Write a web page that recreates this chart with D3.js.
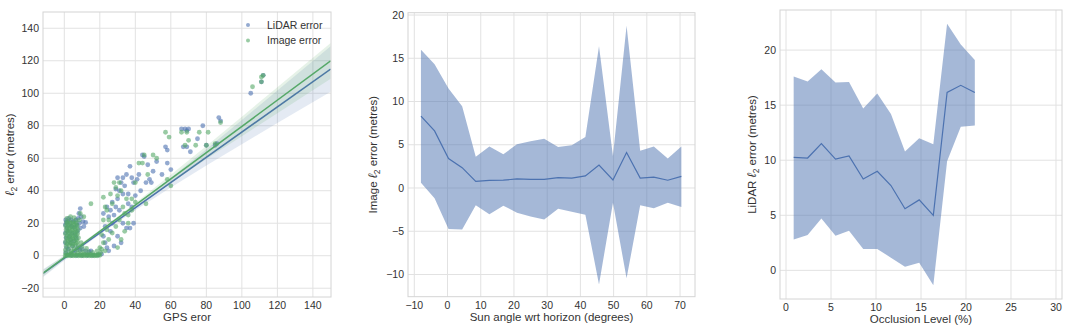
<!DOCTYPE html>
<html>
<head>
<meta charset="utf-8">
<script src="https://cdn.jsdelivr.net/npm/d3@7"></script>
<style>
  body { margin: 0; background: #fff; }
  svg text { font-family: "Liberation Sans", Arial, sans-serif; fill: #333; }
</style>
</head>
<body>
<div id="chart"></div>
<script>
// ---- panel 1: GPS error vs l2 error (scatter + regression) ----
const lidarPts = [
  [0.6,19],[0.8,22],[1.2,20.5],[1.5,17],[0.7,14],[1.0,11],[0.6,8],[1.3,5],[0.9,2],[2.0,21],[2.5,23],[3.0,19],
  [2.2,15],[2.8,12],[3.3,8],[2.4,4],[3.8,22],[4.2,18],[4.5,14],[3.6,10],[4.8,6],[5.2,21],[5.6,17.5],[6.0,13],
  [5.5,9],[6.5,22],[7.0,19],[7.4,15],[6.8,11],[7.8,23],[8.5,20],[9.0,17],[10.5,21],[12,20.5],[9.5,24],[8.2,26],
  [9,29],[11,18],[6.2,3],[7.5,5],[8.8,3.5],[10,4],[12,3],[14,2.5],[15,3],[1.8,0.5],[4,0.3],[7,0.2],[10,0.2],
  [13,0.3],[16,0.2],[19,0.4],[21,1],
  [22,12],[23,8],[24,5],[25,3],[26,15],[27,20],[28,25],[29,30],[30,35],[31,40],[32,45],[33,48],[34,43],
  [35,50],[36,38],[37,55],[38,48],[39,45],[23,18],[25,24],[27,33],[29,41],[31,28],[33,20],[35,17],[37,17],
  [39,20],[30,12],[32,8],[28,6],[26,28],[24,30],[33,38],[36,32],[38,30],[40,37],[41,47],[22,26],[30,48],
  [42,50],[44,62],[45,61],[46,45],[48,47],[50,52],[52,58],[55,50],[58,57],[60,53],[43,40],[47,56],[49,45],
  [57,67],[58,65],[66,78],[67,67],[68,78],[69,77],[70,78],[71,64],[69,67],[75,72],[78,80],[80,68],[85,68],
  [87,85],[88,83],[86,69],[105,100],[111,107],[112,111]
];
const imagePts = [
  [0.5,0],[2,0],[3.5,0],[5,0],[6.5,0],[8,0],[9.5,0],[11,0],[12.5,0],[14,0],[15.5,0],[17,0],[18.5,0],[20,0.3],
  [1.2,0.4],[2.8,0.5],[4.3,0.3],[5.8,0.4],[7.3,0.5],[8.8,0.4],[10.3,0.3],[11.8,0.4],[13.3,0.5],[14.8,0.3],[16.3,0.4],[17.8,0.3],[19.3,0.5],
  [0.8,1.5],[2.5,1.2],[4,1.8],[5.8,1],[7.5,1.4],[9,0.8],[11,1],[13,0.6],[15,0.8],[17,0.5],[19,1],[20.5,2],
  [0.6,3.5],[2.2,4],[3.8,3],[5.5,4.2],[7.2,3.6],[9,3],[11,2.5],[13.5,2.2],[16,2],[18.5,3],[21,4],
  [1,6],[2.7,6.5],[4.4,5.8],[6,6.8],[7.8,6],[10,5.5],[12.5,4.5],
  [1.6,7.3],[3.4,7.6],[5,7.1],[6.8,7.7],
  [0.7,8.5],[2.3,9],[4,8.2],[5.7,9.3],[7.4,8.6],[9.5,8],
  [1.6,10],[3.3,9.9],[5,10.2],[6.8,10.1],
  [1.1,11],[2.8,11.5],[4.5,10.8],[6.2,11.8],[8,11],
  [1.6,12.4],[3.3,12.6],[5,12.2],[6.8,12.7],
  [0.6,13.5],[2.4,14],[4.1,13.2],[5.9,14.2],[7.5,13.6],
  [1.6,15],[3.3,15.1],[5,14.8],[6.8,15.2],
  [1,16],[2.7,16.5],[4.4,15.8],[6.1,16.6],[7.8,16],
  [1.6,17.4],[3.3,17.6],[5,17.3],[6.8,17.7],
  [0.7,18.5],[2.3,19],[4,18.2],[5.7,19.2],[7.3,18.6],
  [1.6,20],[3.3,20.1],[5,19.9],[6.8,20.2],
  [1.2,21],[2.9,21.5],[4.6,20.8],[6.3,21.4],[8.5,22],
  [1.5,23],[3.5,24],[5.5,23.5],[9,26],[11,24],
  [15,32],[20,5],[21,13],[22,22],[22,36],[23,30],[24,28],[25,22],[26,38],[27,32],[28,45],[29,42],[30,37],
  [31,45],[32,40],[33,30],[35,35],[36,25],[38,35],[40,45],[30,5],[32,10],[34,15],[36,20],[38,28],[40,33],
  [23,3],[25,10],[27,14],[29,18],[31,22],[34,26],[22,8],[24,16],
  [42,57],[44,57],[45,62],[46,32],[47,50],[50,62],[52,60],[57,76],[58,47],[60,43],[59,73],
  [66,76],[68,68],[69,76],[70,71],[74,68],[76,76],[80,68],[81,76],[85,69],[88,82],
  [106,104],[111,110],[112,111],[111,107]
];
// regression fits: [intercept, slope]
const lidarFit = [-1.5, 0.776];
const imageFit = [-1.1, 0.807];
// confidence band half-widths along x
const ciX = [-12, 0, 20, 40, 60, 80, 100, 120, 150];
const lidarCi = [2.5, 1.5, 1, 1.5, 3, 5, 7.5, 10, 14];
const imageCi = [2, 1.2, 0.8, 1.3, 2.5, 4, 6, 8, 11];

// ---- panel 2: sun angle ----
const sunX = [-8, -3.9, 0.3, 4.4, 8.5, 12.6, 16.8, 20.9, 25, 29.1, 33.3, 37.4, 41.5, 45.6, 49.8, 53.9, 58, 62.1, 66.3, 70.4];
const sunMean = [8.3, 6.6, 3.4, 2.35, 0.77, 0.87, 0.9, 1.05, 1.0, 1.0, 1.2, 1.15, 1.4, 2.66, 0.93, 4.1, 1.15, 1.25, 0.9, 1.35];
const sunHigh = [16.0, 14.3, 11.5, 9.45, 3.6, 4.8, 3.9, 5.05, 5.4, 5.7, 4.75, 4.95, 5.9, 16.4, 3.7, 18.75, 4.3, 4.8, 3.4, 4.8];
const sunLow = [0.6, -1.2, -4.75, -4.8, -2.0, -3.05, -2.05, -2.85, -3.3, -3.65, -2.4, -2.75, -3.1, -11.15, -1.7, -10.45, -2.0, -2.35, -1.7, -2.2];

// ---- panel 3: occlusion ----
const occX = [0.85, 2.4, 3.93, 5.5, 7.0, 8.58, 10.14, 11.66, 13.22, 14.8, 16.37, 17.9, 19.42, 20.98];
const occMean = [10.26, 10.2, 11.5, 10.1, 10.4, 8.3, 9.0, 7.7, 5.6, 6.4, 5.0, 16.15, 16.8, 16.15];
const occHigh = [17.6, 17.15, 18.25, 17.05, 17.1, 14.7, 16.05, 14.2, 10.8, 12.0, 11.45, 22.4, 20.5, 19.1];
const occLow = [2.8, 3.2, 4.7, 3.15, 3.6, 1.93, 1.95, 1.15, 0.33, 0.7, -1.35, 9.9, 13.05, 13.15];

const blue = '#4c72b0';
const green = '#55a868';
const W = 1076, H = 331;

const svg = d3.select('#chart').append('svg').attr('width', W).attr('height', H);

const fmt = d => (d < 0 ? '\u2212' + Math.abs(d) : '' + d);

function makePanel(cfg) {
  const x = d3.scaleLinear().domain(cfg.xDomain).range([cfg.left, cfg.right]);
  const y = d3.scaleLinear().domain(cfg.yDomain).range([cfg.bottom, cfg.top]);
  const g = svg.append('g');
  const clipId = 'clip' + cfg.id;
  svg.append('clipPath').attr('id', clipId).append('rect')
    .attr('x', cfg.left).attr('y', cfg.top)
    .attr('width', cfg.right - cfg.left).attr('height', cfg.bottom - cfg.top);

  // grid
  g.selectAll('.vg').data(cfg.xTicks).enter().append('line')
    .attr('x1', d => x(d)).attr('x2', d => x(d))
    .attr('y1', cfg.top).attr('y2', cfg.bottom)
    .attr('stroke', '#e2e2e2').attr('stroke-width', 1);
  g.selectAll('.hg').data(cfg.yTicks).enter().append('line')
    .attr('y1', d => y(d)).attr('y2', d => y(d))
    .attr('x1', cfg.left).attr('x2', cfg.right)
    .attr('stroke', '#e2e2e2').attr('stroke-width', 1);

  // tick labels
  g.selectAll('.xt').data(cfg.xTicks).enter().append('text')
    .attr('x', d => x(d)).attr('y', cfg.bottom + 12)
    .attr('text-anchor', 'middle').attr('font-size', 10.5).text(fmt);
  g.selectAll('.yt').data(cfg.yTicks).enter().append('text')
    .attr('x', cfg.left - 4).attr('y', d => y(d) + 3.7)
    .attr('text-anchor', 'end').attr('font-size', 10.5).text(fmt);

  // axis labels
  g.append('text')
    .attr('x', (cfg.left + cfg.right) / 2).attr('y', cfg.bottom + cfg.xLabelOff)
    .attr('text-anchor', 'middle').attr('font-size', 11.5).text(cfg.xLabel);
  const yl = g.append('text')
    .attr('transform', `translate(${cfg.yLabelX},${(cfg.top + cfg.bottom) / 2}) rotate(-90)`)
    .attr('text-anchor', 'middle').attr('font-size', 11.5);
  if (cfg.yPrefix) yl.append('tspan').text(cfg.yPrefix);
  yl.append('tspan').attr('font-style', 'italic').attr('font-size', 12.5).text('\u2113');
  yl.append('tspan').attr('dy', 2.5).attr('font-size', 8.5).text('2');
  yl.append('tspan').attr('dy', -2.5).text(' error (metres)');

  const plot = svg.append('g').attr('clip-path', `url(#${clipId})`);
  return { x, y, g, plot, cfg };
}

function drawFrame(p) {
  const c = p.cfg;
  svg.append('rect')
    .attr('x', c.left).attr('y', c.top)
    .attr('width', c.right - c.left).attr('height', c.bottom - c.top)
    .attr('fill', 'none').attr('stroke', '#d4d4d4').attr('stroke-width', 1);
}

// ---------- panel 1 ----------
const p1 = makePanel({
  id: 1, left: 43, right: 331, top: 12, bottom: 297,
  xDomain: [-12, 150.2], yDomain: [-25.4, 150],
  xTicks: d3.range(0, 141, 20), yTicks: d3.range(-20, 141, 20),
  xLabel: 'GPS eror', xLabelOff: 24, yLabelX: 14, yPrefix: ''
});

function drawFit(p, fit, ci, col) {
  const band = d3.area()
    .x(d => p.x(d))
    .y0((d, i) => p.y(fit[0] + fit[1] * d - ci[i]))
    .y1((d, i) => p.y(fit[0] + fit[1] * d + ci[i]));
  p.plot.append('path').datum(ciX).attr('d', band)
    .attr('fill', col).attr('opacity', 0.15);
  const line = d3.line().x(d => p.x(d)).y(d => p.y(fit[0] + fit[1] * d));
  p.plot.append('path').datum([ciX[0], ciX[ciX.length - 1]]).attr('d', line)
    .attr('fill', 'none').attr('stroke', col).attr('stroke-width', 1.5);
}

p1.plot.selectAll('.lp').data(lidarPts).enter().append('circle')
  .attr('cx', d => p1.x(d[0])).attr('cy', d => p1.y(d[1])).attr('r', 2.4)
  .attr('fill', blue).attr('opacity', 0.6);
drawFit(p1, lidarFit, lidarCi, blue);
p1.plot.selectAll('.ip').data(imagePts).enter().append('circle')
  .attr('cx', d => p1.x(d[0])).attr('cy', d => p1.y(d[1])).attr('r', 2.4)
  .attr('fill', green).attr('opacity', 0.6);
drawFit(p1, imageFit, imageCi, green);
drawFrame(p1);

// legend
const legend = [['LiDAR error', blue], ['Image error', green]];
legend.forEach((l, i) => {
  svg.append('circle').attr('cx', 248).attr('cy', 25 + i * 15.5).attr('r', 2)
    .attr('fill', l[1]).attr('opacity', 0.6);
  svg.append('text').attr('x', 267).attr('y', 28.8 + i * 15.5)
    .attr('font-size', 10.5).text(l[0]);
});

// ---------- panel 2 ----------
const p2 = makePanel({
  id: 2, left: 408, right: 695, top: 12.7, bottom: 296.7,
  xDomain: [-11.9, 74.5], yDomain: [-12.57, 20.27],
  xTicks: d3.range(-10, 71, 10), yTicks: d3.range(-10, 21, 5),
  xLabel: 'Sun angle wrt horizon (degrees)', xLabelOff: 24, yLabelX: 377, yPrefix: 'Image '
});
p2.plot.append('path').datum(sunX)
  .attr('d', d3.area().x(d => p2.x(d)).y0((d, i) => p2.y(sunLow[i])).y1((d, i) => p2.y(sunHigh[i])))
  .attr('fill', blue).attr('opacity', 0.5);
p2.plot.append('path').datum(sunX)
  .attr('d', d3.line().x(d => p2.x(d)).y((d, i) => p2.y(sunMean[i])))
  .attr('fill', 'none').attr('stroke', blue).attr('stroke-width', 1.2);
drawFrame(p2);

// ---------- panel 3 ----------
const p3 = makePanel({
  id: 3, left: 780, right: 1062, top: 10, bottom: 299,
  xDomain: [-0.67, 30.67], yDomain: [-2.6, 23.64],
  xTicks: d3.range(0, 31, 5), yTicks: d3.range(0, 21, 5),
  xLabel: 'Occlusion Level (%)', xLabelOff: 24, yLabelX: 756, yPrefix: 'LiDAR '
});
p3.plot.append('path').datum(occX)
  .attr('d', d3.area().x(d => p3.x(d)).y0((d, i) => p3.y(occLow[i])).y1((d, i) => p3.y(occHigh[i])))
  .attr('fill', blue).attr('opacity', 0.5);
p3.plot.append('path').datum(occX)
  .attr('d', d3.line().x(d => p3.x(d)).y((d, i) => p3.y(occMean[i])))
  .attr('fill', 'none').attr('stroke', blue).attr('stroke-width', 1.2);
drawFrame(p3);
</script>
</body>
</html>
